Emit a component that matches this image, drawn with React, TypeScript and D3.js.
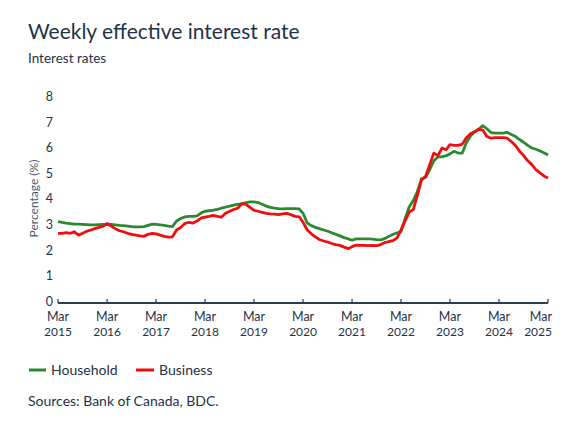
import React from "react";
import * as d3 from "d3";

const startYear = 2015;
const startMonth = 2; // March (0-based)

// Monthly readings, Mar 2015 – Mar 2025
const household: number[] = [
  3.18, 3.15, 3.12, 3.10, 3.08, 3.08, 3.07, 3.06, 3.05, 3.05, 3.06, 3.07,
  3.08, 3.07, 3.05, 3.03, 3.02, 3.00, 2.98, 2.97, 2.97, 2.98, 3.03, 3.08,
  3.07, 3.05, 3.03, 3.00, 2.98, 3.20, 3.30, 3.36, 3.38, 3.38, 3.40, 3.52,
  3.58, 3.60, 3.62, 3.65, 3.70, 3.74, 3.78, 3.82, 3.85, 3.88, 3.92, 3.95,
  3.95, 3.92, 3.85, 3.78, 3.73, 3.70, 3.68, 3.67, 3.68, 3.68, 3.68, 3.67,
  3.50, 3.12, 3.02, 2.95, 2.90, 2.85, 2.80, 2.74, 2.68, 2.62, 2.55, 2.50,
  2.45, 2.50, 2.50, 2.50, 2.50, 2.49, 2.47, 2.46, 2.52, 2.60, 2.68, 2.74,
  2.78, 3.30, 3.75, 4.00, 4.35, 4.85, 4.90, 5.20, 5.55, 5.70, 5.70, 5.75,
  5.82, 5.92, 5.85, 5.85, 6.25, 6.52, 6.68, 6.78, 6.92, 6.80, 6.65, 6.63,
  6.63, 6.63, 6.66, 6.58, 6.50, 6.38, 6.27, 6.15, 6.05, 6.00, 5.93, 5.85,
  5.78,
];

const business: number[] = [
  2.72, 2.72, 2.75, 2.72, 2.78, 2.65, 2.72, 2.80, 2.85, 2.90, 2.95, 3.00,
  3.10, 3.00, 2.90, 2.82, 2.78, 2.72, 2.68, 2.65, 2.62, 2.60, 2.68, 2.72,
  2.70, 2.65, 2.60, 2.57, 2.58, 2.85, 2.95, 3.10, 3.15, 3.12, 3.20, 3.32,
  3.35, 3.38, 3.42, 3.38, 3.35, 3.50, 3.58, 3.65, 3.70, 3.88, 3.85, 3.72,
  3.62, 3.58, 3.54, 3.50, 3.48, 3.47, 3.45, 3.48, 3.50, 3.45, 3.38, 3.36,
  3.15, 2.85, 2.70, 2.58, 2.48, 2.42, 2.38, 2.32, 2.28, 2.25, 2.18, 2.12,
  2.20, 2.26, 2.25, 2.25, 2.24, 2.25, 2.24, 2.28, 2.36, 2.40, 2.43, 2.55,
  2.85, 3.20, 3.55, 3.65, 4.20, 4.80, 4.95, 5.40, 5.85, 5.75, 6.05, 5.98,
  6.18, 6.15, 6.15, 6.20, 6.45, 6.60, 6.68, 6.78, 6.75, 6.50, 6.43, 6.45,
  6.45, 6.45, 6.43, 6.30, 6.15, 5.92, 5.75, 5.55, 5.40, 5.20, 5.08, 4.95,
  4.88,
];

const yTicks: number[] = [0, 1, 2, 3, 4, 5, 6, 7, 8];
const xTickYears: number[] = [2015, 2016, 2017, 2018, 2019, 2020, 2021, 2022, 2023, 2024, 2025];
const xTickMonthLabel = "Mar";

const title = "Weekly effective interest rate";
const subtitle = "Interest rates";
const yAxisTitle = "Percentage (%)";
const seriesNames = ["Household", "Business"];
const source = "Sources: Bank of Canada, BDC.";

const GREEN = "#2b8a2f";
const RED = "#f20d0d";
const TEXT = "#1f3247";
const AXIS = "#2c3e52";
const FONT = "Lato, 'Open Sans', sans-serif";

export default function App() {
  const W = 575;
  const H = 431;
  const x = d3
    .scaleTime()
    .domain([new Date(startYear, startMonth, 1), new Date(2025, 2, 1)])
    .range([58, 548]);
  const y = d3.scaleLinear().domain([0, 8]).range([303, 98]);

  const dates = household.map((_, i) => new Date(startYear, startMonth + i, 1));
  const line = d3
    .line<number>()
    .x((_, i) => x(dates[i]))
    .y((d) => y(d))
    .curve(d3.curveLinear);

  return (
    <svg
      width={W}
      height={H}
      style={{ position: "absolute", left: 0, top: 0, background: "#fff" }}
      fontFamily={FONT}
    >
      <rect width={W} height={H} fill="#fff" />
      <text x={28} y={39} fontSize={21} fill={TEXT}>
        {title}
      </text>
      <text x={28} y={63} fontSize={13.5} fill={TEXT}>
        {subtitle}
      </text>

      {yTicks.map((t) => (
        <text
          key={t}
          x={53}
          y={y(t) - 1.5}
          dy="0.35em"
          textAnchor="end"
          fontSize={12.5}
          fill={TEXT}
        >
          {t}
        </text>
      ))}
      <text
        transform={`translate(38,${(y(0) + y(8)) / 2 - 2}) rotate(-90)`}
        textAnchor="middle"
        fontSize={12}
        fill="#4b5b6c"
      >
        {yAxisTitle}
      </text>

      <path d={line(household) || ""} fill="none" stroke={GREEN} strokeWidth={2.8} strokeLinejoin="round" />
      <path d={line(business) || ""} fill="none" stroke={RED} strokeWidth={2.8} strokeLinejoin="round" />

      <line x1={58} x2={548} y1={y(0)} y2={y(0)} stroke={AXIS} strokeWidth={2} />
      {xTickYears.map((yr, i) => {
        const xx = x(new Date(yr, 2, 1));
        const last = i === xTickYears.length - 1;
        return (
          <g key={yr}>
            <line x1={xx} x2={xx} y1={y(0)} y2={y(0) - 4} stroke={AXIS} strokeWidth={1.2} />
            <text
              x={last ? xx + 4 : xx}
              y={321}
              textAnchor={last ? "end" : "middle"}
              fontSize={12.5}
              fill={TEXT}
            >
              {xTickMonthLabel}
            </text>
            <text
              x={last ? xx + 4 : xx}
              y={336}
              textAnchor={last ? "end" : "middle"}
              fontSize={12}
              fill={TEXT}
            >
              {yr}
            </text>
          </g>
        );
      })}

      <line x1={29} x2={46} y1={370} y2={370} stroke={GREEN} strokeWidth={3} />
      <text x={51} y={375} fontSize={14} fill={TEXT}>
        {seriesNames[0]}
      </text>
      <line x1={136} x2={154} y1={370} y2={370} stroke={RED} strokeWidth={3} />
      <text x={159} y={375} fontSize={14} fill={TEXT}>
        {seriesNames[1]}
      </text>

      <text x={28} y={406} fontSize={14} fill={TEXT}>
        {source}
      </text>
    </svg>
  );
}
